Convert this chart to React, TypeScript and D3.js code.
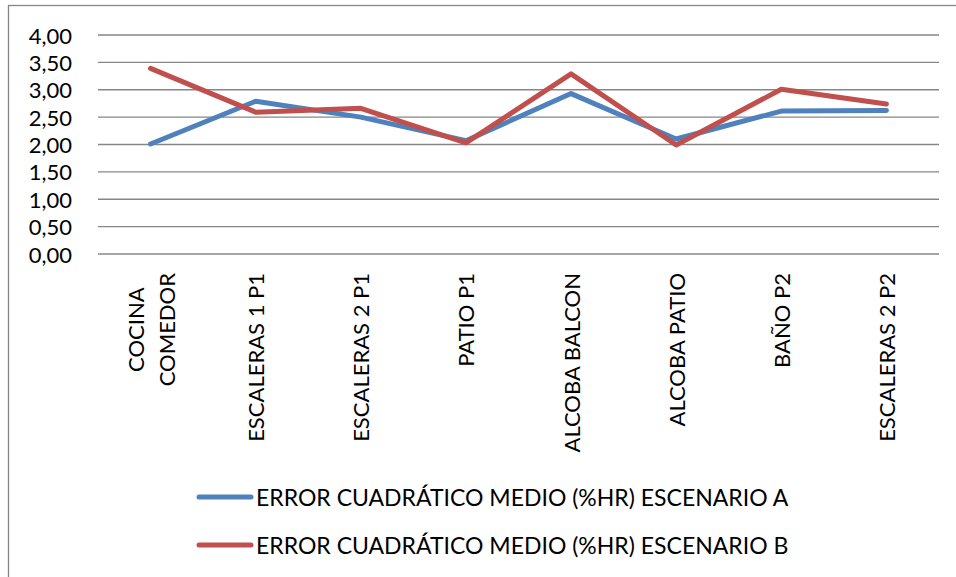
import { useEffect, useRef } from 'react'
import * as d3 from 'd3'

const categories = [
  'COCINA COMEDOR',
  'ESCALERAS 1 P1',
  'ESCALERAS 2 P1',
  'PATIO P1',
  'ALCOBA BALCON',
  'ALCOBA PATIO',
  'BAÑO P2',
  'ESCALERAS 2 P2',
]
// COCINA COMEDOR wraps onto two lines in the original
const categoryLines = [['COCINA', 'COMEDOR'], ['ESCALERAS 1 P1'], ['ESCALERAS 2 P1'], ['PATIO P1'], ['ALCOBA BALCON'], ['ALCOBA PATIO'], ['BAÑO P2'], ['ESCALERAS 2 P2']]

const escenarioA = [2.01, 2.79, 2.5, 2.07, 2.93, 2.1, 2.61, 2.62]
const escenarioB = [3.39, 2.59, 2.66, 2.03, 3.29, 1.99, 3.01, 2.74]

const yTicks = [0, 0.5, 1, 1.5, 2, 2.5, 3, 3.5, 4]

const seriesNames = ['ERROR CUADRÁTICO MEDIO (%HR) ESCENARIO A', 'ERROR CUADRÁTICO MEDIO (%HR) ESCENARIO B']
const seriesColors = ['#4F81BD', '#C0504D']

const WIDTH = 956
const HEIGHT = 577
const FONT = 'Lato, "Open Sans", sans-serif'

export default function App() {
  const svgRef = useRef<SVGSVGElement | null>(null)

  useEffect(() => {
    const svgElement = svgRef.current
    if (!svgElement) return
    const svg = d3.select(svgElement)
    svg.selectAll('*').remove()

    const plot = { left: 98, right: 939, top: 35, bottom: 254 }

    const xScale = d3.scaleBand<string>().domain(categories).range([plot.left, plot.right])
    const yScale = d3.scaleLinear().domain([0, 4]).range([plot.bottom, plot.top])
    const cx = (c: string) => (xScale(c) ?? 0) + xScale.bandwidth() / 2

    // outer chart frame
    svg
      .append('rect')
      .attr('x', 8.5)
      .attr('y', 5.5)
      .attr('width', 960)
      .attr('height', 600)
      .attr('fill', '#fff')
      .attr('stroke', '#868686')
      .attr('stroke-width', 1.3)

    // gridlines
    svg
      .append('g')
      .selectAll('line')
      .data(yTicks)
      .join('line')
      .attr('x1', plot.left)
      .attr('x2', plot.right)
      .attr('y1', (d) => yScale(d))
      .attr('y2', (d) => yScale(d))
      .attr('stroke', '#868686')
      .attr('stroke-width', 1.3)

    // y tick labels
    svg
      .append('g')
      .selectAll('text')
      .data(yTicks)
      .join('text')
      .attr('x', 72)
      .attr('y', (d) => yScale(d))
      .attr('text-anchor', 'end')
      .attr('dominant-baseline', 'central')
      .attr('font-family', FONT)
      .attr('font-size', 22)
      .attr('fill', '#000')
      .text((d) => d.toFixed(2).replace('.', ','))

    // category labels, rotated, top-anchored
    const labelTop = 273
    const lineGap = 31
    categories.forEach((c, i) => {
      const lines = categoryLines[i]
      const g = svg.append('g').attr('transform', `translate(${cx(c)},${labelTop}) rotate(-90)`)
      const texts = lines.map((ln, j) =>
        g
          .append('text')
          .attr('y', (j - (lines.length - 1) / 2) * lineGap)
          .attr('dominant-baseline', 'central')
          .attr('font-family', FONT)
          .attr('font-size', 22)
          .attr('fill', '#000')
          .text(ln)
      )
      const maxW = d3.max(texts, (t) => (t.node() as SVGTextElement).getComputedTextLength()) ?? 0
      texts.forEach((t) => t.attr('x', -maxW / 2).attr('text-anchor', 'middle'))
    })

    // series lines
    const line = d3
      .line<number>()
      .x((_, i) => cx(categories[i]))
      .y((d) => yScale(d))
    ;[escenarioA, escenarioB].forEach((values, k) => {
      svg
        .append('path')
        .datum(values)
        .attr('fill', 'none')
        .attr('stroke', seriesColors[k])
        .attr('stroke-width', 5)
        .attr('stroke-linejoin', 'round')
        .attr('stroke-linecap', 'round')
        .attr('d', line)
    })

    // legend
    const legendY = [497, 545]
    seriesNames.forEach((name, k) => {
      svg
        .append('line')
        .attr('x1', 199)
        .attr('x2', 251)
        .attr('y1', legendY[k])
        .attr('y2', legendY[k])
        .attr('stroke', seriesColors[k])
        .attr('stroke-width', 5)
        .attr('stroke-linecap', 'round')
      svg
        .append('text')
        .attr('x', 256)
        .attr('y', legendY[k])
        .attr('dominant-baseline', 'central')
        .attr('font-family', FONT)
        .attr('font-size', 23)
        .attr('fill', '#000')
        .text(name)
    })
  }, [])

  return (
    <svg
      ref={svgRef}
      width={WIDTH}
      height={HEIGHT}
      style={{ position: 'absolute', left: 0, top: 0, display: 'block' }}
    />
  )
}
